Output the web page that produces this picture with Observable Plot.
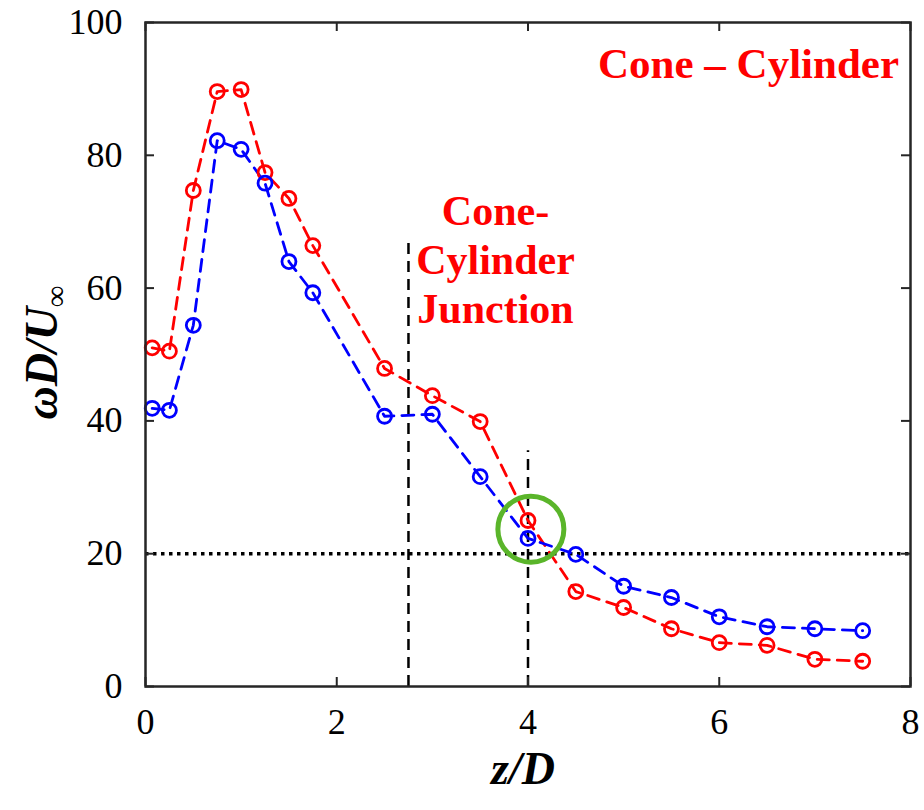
<!DOCTYPE html>
<html><head><meta charset="utf-8">
<script src="https://cdn.jsdelivr.net/npm/d3@7"></script>
<script src="https://cdn.jsdelivr.net/npm/@observablehq/plot@0.6"></script>
<style>body{margin:0;background:#fff}</style>
</head><body><div id="chart"></div>
<script>
// z/D stations
const zD = [0.07, 0.25, 0.5, 0.75, 1, 1.25, 1.5, 1.75, 2.5, 3, 3.5, 4, 4.5, 5, 5.5, 6, 6.5, 7, 7.5];
// red series (Cone – Cylinder)
const redValues = [51.0, 50.5, 74.7, 89.6, 89.9, 77.4, 73.5, 66.4, 47.9, 43.8, 39.9, 25.0, 14.3, 11.9, 8.7, 6.6, 6.2, 4.1, 3.8];
// blue series
const blueValues = [41.9, 41.6, 54.4, 82.2, 80.9, 75.8, 64.0, 59.3, 40.7, 41.0, 31.6, 22.3, 19.9, 15.1, 13.4, 10.5, 9.0, 8.7, 8.4];
const xTicks = [0, 2, 4, 6, 8];
const yTicks = [0, 20, 40, 60, 80, 100];
// reference lines
const junctionX = [2.75, 4];
const junctionTop = [67.6, 35.5];
const thresholdY = [20];
// highlight circle
const highlightX = [4.03];
const highlightY = [23.7];
// annotations
const labelTitle = ["Cone – Cylinder"];
const labelTitleX = [7.88], labelTitleY = [93.7];
const labelJunction = ["Cone-\nCylinder\nJunction"];
const labelJunctionX = [3.66], labelJunctionY = [64.5];

const red = zD.map((z, i) => ({z, v: redValues[i]}));
const blue = zD.map((z, i) => ({z, v: blueValues[i]}));
const junction = junctionX.map((x, i) => ({x, top: junctionTop[i]}));
const serif = "Liberation Serif";

const chart = Plot.plot({
  width: 924, height: 810,
  marginLeft: 145, marginRight: 14, marginTop: 22, marginBottom: 124,
  style: {fontFamily: serif, fontSize: "36px", color: "#000", background: "#fff"},
  x: {domain: [0, 8], label: null},
  y: {domain: [0, 100], label: null},
  marks: [
    Plot.ruleY(thresholdY, {stroke: "#000", strokeWidth: 3.5, strokeDasharray: "3.5,4.5"}),
    Plot.ruleX(junction, {x: "x", y1: 0, y2: "top", stroke: "#000", strokeWidth: 2.5, strokeDasharray: "11,7"}),
    Plot.line(red, {x: "z", y: "v", stroke: "#ff0000", strokeWidth: 2.8, strokeDasharray: "12,8"}),
    Plot.line(blue, {x: "z", y: "v", stroke: "#0000ff", strokeWidth: 2.8, strokeDasharray: "12,8"}),
    Plot.dot(red, {x: "z", y: "v", r: 7, stroke: "#ff0000", strokeWidth: 2.8, fill: "none"}),
    Plot.dot(blue, {x: "z", y: "v", r: 7, stroke: "#0000ff", strokeWidth: 2.8, fill: "none"}),
    Plot.dot(highlightX.map((x, i) => ({x, y: highlightY[i]})), {x: "x", y: "y", r: 33, stroke: "#5ab52a", strokeWidth: 5, fill: "none"}),
    Plot.text(labelTitle, {x: labelTitleX, y: labelTitleY, text: d => d, textAnchor: "end", fill: "#ff0000", fontWeight: "bold", fontSize: 43, fontFamily: serif}),
    Plot.text(labelJunction, {x: labelJunctionX, y: labelJunctionY, text: d => d, textAnchor: "middle", lineHeight: 1.17, fill: "#ff0000", fontWeight: "bold", fontSize: 42, fontFamily: serif}),
    // inward ticks on all four sides
    Plot.ruleX(xTicks, {y1: 0, y2: 0, insetTop: -9, stroke: "#262626", strokeWidth: 2}),
    Plot.ruleX(xTicks, {y1: 100, y2: 100, insetBottom: -9, stroke: "#262626", strokeWidth: 2}),
    Plot.ruleY(yTicks, {x1: 0, x2: 0, insetRight: -9, stroke: "#262626", strokeWidth: 2}),
    Plot.ruleY(yTicks, {x1: 8, x2: 8, insetLeft: -9, stroke: "#262626", strokeWidth: 2}),
    Plot.axisX({ticks: xTicks, tickSize: 0, tickPadding: 22, label: null, fontSize: 36, fontFamily: serif}),
    Plot.axisY({ticks: yTicks, tickSize: 0, tickPadding: 23, label: null, fontSize: 36, fontFamily: serif}),
    Plot.frame({stroke: "#262626", strokeWidth: 2.5}),
    Plot.text(["z/D"], {frameAnchor: "bottom", dx: -5, dy: 97, textAnchor: "middle", text: d => d, fontStyle: "italic", fontWeight: "bold", fontSize: 46, fontFamily: serif}),
    Plot.text(["ωD/U"], {frameAnchor: "left", textAnchor: "middle", dx: -103, dy: -2, rotate: -90, text: d => d, fontStyle: "italic", fontWeight: "bold", fontSize: 46, fontFamily: serif})
  ]
});

d3.select(chart).selectAll("text").filter(function() { return this.textContent === "ωD/U"; })
  .append("tspan").attr("dy", "0.3em").attr("font-size", "30px").attr("font-style", "normal").text("∞");

document.getElementById("chart").appendChild(chart);
</script></body></html>
